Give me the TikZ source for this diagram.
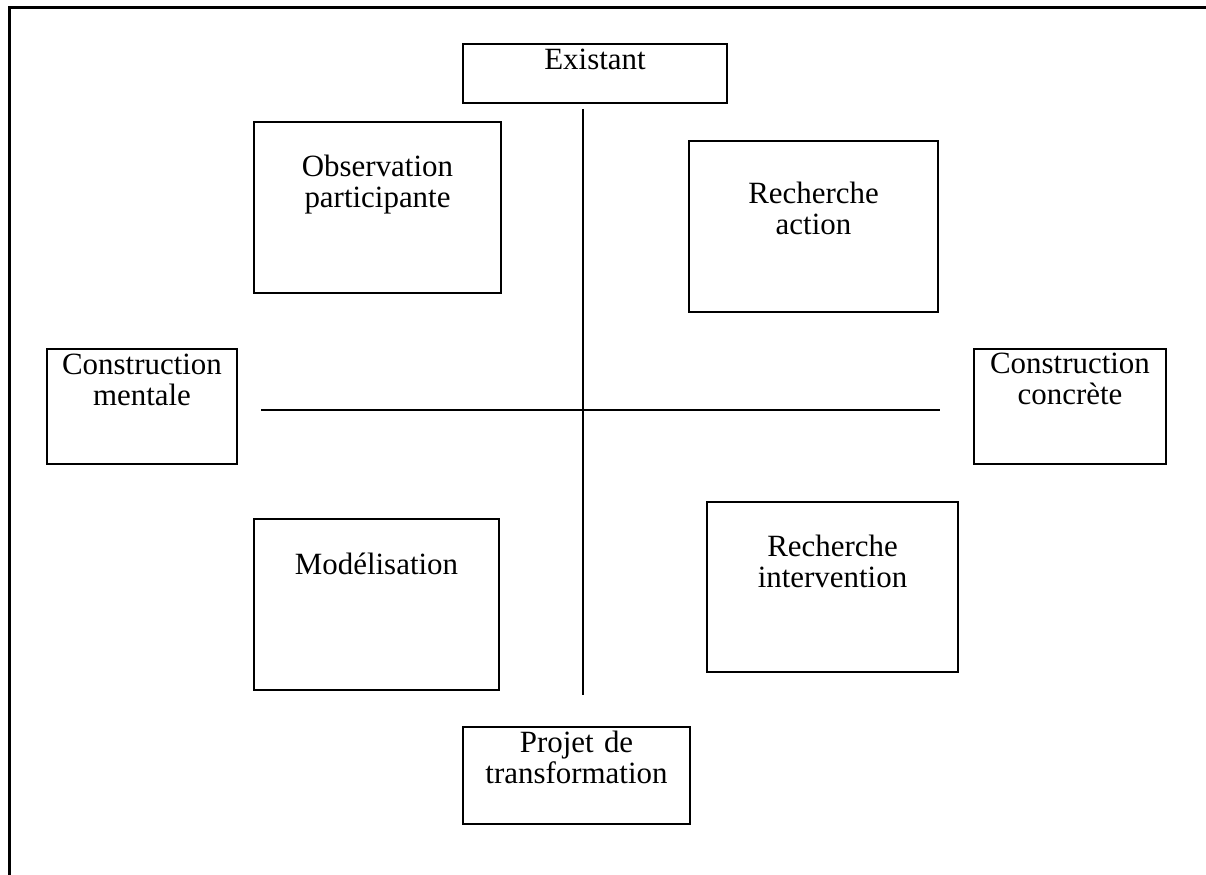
\documentclass[tikz,border=0pt]{standalone}
\usepackage{fontspec}
\setmainfont{Liberation Serif}
\begin{document}
\begin{tikzpicture}[
  every node/.style={font=\fontsize{17.6}{17.9}\selectfont},
  boite/.style={rectangle, draw=black, line width=1.3pt, fill=white, inner sep=0pt},
  etiquette/.style={anchor=north, text width=6cm, align=center, text height=0pt, inner sep=0pt},
  axe/.style={line width=1.1pt},
  cadre/.style={line width=1.7pt}
]
\useasboundingbox (0,0) rectangle (24.12,-17.5);
\draw[cadre] (0.19,-17.5) -- (0.19,-0.15) -- (24.12,-0.15);
\node[boite, minimum width=5.28cm, minimum height=1.18cm,
  label={[etiquette, yshift=-0.52cm]north:Existant}] (exist) at (11.9,-1.47) {};
\node[boite, minimum width=4.94cm, minimum height=3.42cm,
  label={[etiquette, yshift=-1.1cm]north:{Observation\\participante}}] (obs) at (7.55,-4.15) {};
\node[boite, minimum width=4.98cm, minimum height=3.42cm,
  label={[etiquette, yshift=-1.26cm]north:{Recherche\\action}}] (ra) at (16.27,-4.53) {};
\node[boite, minimum width=3.8cm, minimum height=2.3cm,
  label={[etiquette, yshift=-0.52cm]north:{Construction\\mentale}}] (cm) at (2.84,-8.13) {};
\node[boite, minimum width=3.84cm, minimum height=2.3cm,
  label={[etiquette, yshift=-0.5cm]north:{Construction\\concrète}}] (cc) at (21.4,-8.13) {};
\node[boite, minimum width=4.9cm, minimum height=3.42cm,
  label={[etiquette, yshift=-1.12cm]north:Modélisation}] (model) at (7.53,-12.09) {};
\node[boite, minimum width=5.02cm, minimum height=3.4cm,
  label={[etiquette, yshift=-1.1cm]north:{Recherche\\intervention}}] (ri) at (16.65,-11.74) {};
\node[boite, minimum width=4.54cm, minimum height=1.94cm,
  label={[etiquette, yshift=-0.52cm]north:{Projet de\\transformation}}] (projet) at (11.53,-15.51) {};
% axes
\coordinate (haut) at (11.66,-2.18);
\coordinate (bas) at (11.66,-13.9);
\coordinate (gauche) at (5.22,-8.2);
\coordinate (droite) at (18.8,-8.2);
\draw[axe] (haut) -- (bas);
\draw[axe] (gauche) -- (droite);
\end{tikzpicture}
\end{document}
